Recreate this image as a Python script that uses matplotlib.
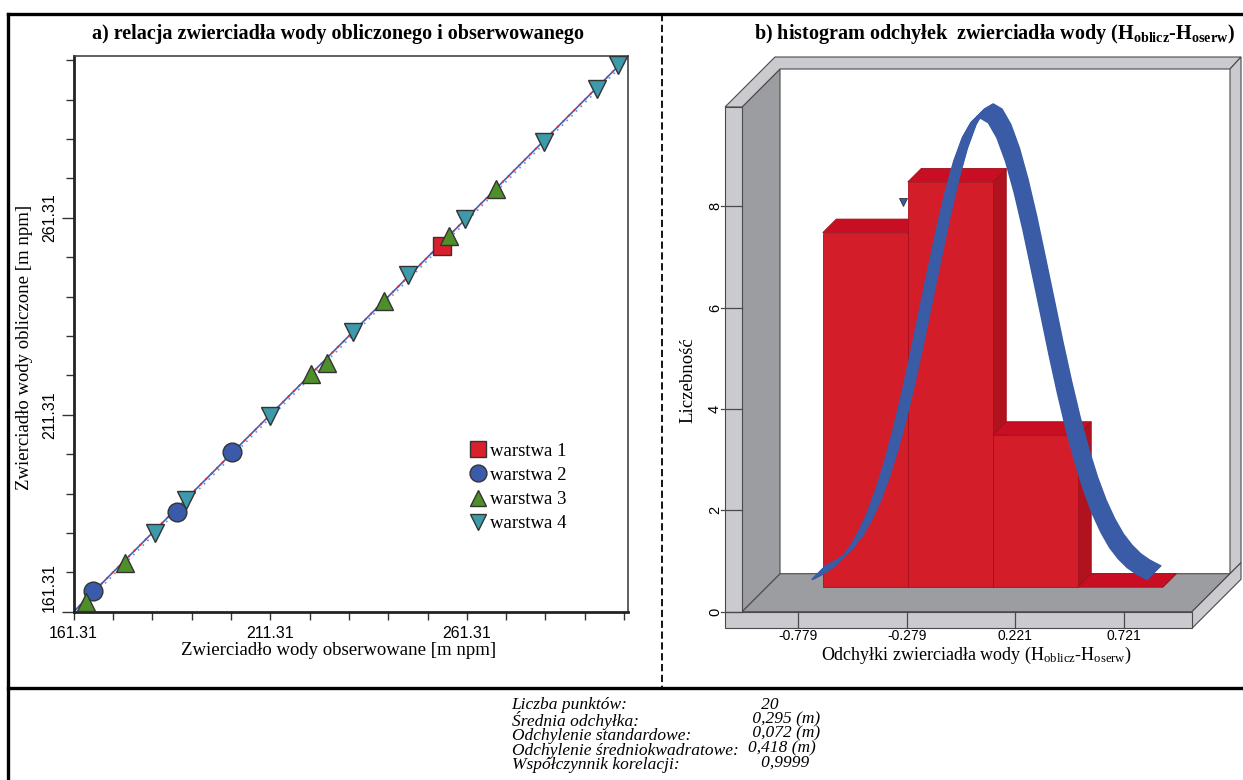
import numpy as np
import matplotlib
matplotlib.use("Agg")
import matplotlib.pyplot as plt
from matplotlib.patches import Polygon
from matplotlib.lines import Line2D

plt.rcParams['font.family'] = 'Liberation Serif'
plt.rcParams['mathtext.fontset'] = 'custom'
plt.rcParams['mathtext.rm'] = 'Liberation Serif'
plt.rcParams['mathtext.it'] = 'Liberation Serif:italic'
plt.rcParams['mathtext.bf'] = 'Liberation Serif:bold'

# ---- panel a: observed vs computed water table [m npm]
w1_obs = [255.05]
w1_calc = [254.19]
w2_obs = [166.35, 187.67, 201.59]
w2_calc = [166.65, 186.75, 201.87]
w3_obs = [164.54, 174.39, 221.64, 225.71, 240.14, 256.83, 268.66]
w3_calc = [163.85, 173.78, 221.54, 224.52, 240.19, 256.65, 268.61]
w4_obs = [181.90, 190.01, 211.13, 232.25, 246.27, 260.78, 281.01, 294.37, 299.84]
w4_calc = [181.26, 189.73, 211.11, 232.30, 246.81, 260.98, 280.58, 294.06, 299.99]
layer_names = ['warstwa 1', 'warstwa 2', 'warstwa 3', 'warstwa 4']

axis_min = 161.31
axis_max = 302.4
major_ticks = [161.31, 211.31, 261.31]

# ---- panel b: histogram of deviations
bin_start = -0.779
bin_width = 0.392
counts = [7, 8, 3, 0]
hist_ticks = [-0.779, -0.279, 0.221, 0.721]
count_ticks = [0, 2, 4, 6, 8]
curve_x = [-0.830, -0.815, -0.775, -0.735, -0.695, -0.655, -0.615, -0.575, -0.535, -0.495,
           -0.455, -0.415, -0.375, -0.335, -0.295, -0.255, -0.215, -0.175, -0.135, -0.095,
           -0.055, -0.015, 0.025, 0.065, 0.105, 0.145, 0.185, 0.225, 0.265, 0.305,
           0.345, 0.385, 0.425, 0.465, 0.505, 0.545, 0.585, 0.625, 0.665, 0.705, 0.720]
curve_y = [0.15, 0.18, 0.27, 0.39, 0.56, 0.78, 1.08, 1.45, 1.91, 2.46,
           3.09, 3.81, 4.59, 5.42, 6.24, 7.05, 7.78, 8.40, 8.87, 9.17,
           9.27, 9.17, 8.87, 8.40, 7.78, 7.05, 6.24, 5.42, 4.59, 3.81,
           3.09, 2.46, 1.91, 1.45, 1.08, 0.78, 0.56, 0.39, 0.27, 0.18, 0.15]
mark_x, mark_y = -0.295, 8.09

# ---- statistics
stats_labels = ['Liczba punktów:', 'Średnia odchyłka:', 'Odchylenie standardowe:',
                'Odchylenie średniokwadratowe:', 'Współczynnik korelacji:']
stats_values = ['20', '0,295 (m)', '0,072 (m)', '0,418 (m)', '0,9999']
stats_indent = [3, 1, 1, 0, 3]

W, H = 1243, 780
fig = plt.figure(figsize=(W / 100, H / 100), dpi=100)


def fx(px):
    return px / W


def fy(py):
    return 1 - py / H


# ================= panel a =================
ax = fig.add_axes([fx(73.6), fy(611.7), 554.8 / W, 555.7 / H])
ax.set_xlim(axis_min, axis_max)
ax.set_ylim(axis_min, axis_max)

line = np.array([axis_min, axis_max])
ax.plot(line, line, color='#3F5FB5', lw=1.2, zorder=2)
ax.plot(line, line, color='#E2303C', lw=1.4, ls=(0, (1, 3)), zorder=2)
ax.plot(line + 0.8, line, color='#7090DD', lw=1.2, ls=(0, (1, 3)), zorder=2)

mk = dict(ls='none', mec='#333333', mew=1.0, ms=13.5, zorder=3)
ax.plot(w1_obs, w1_calc, marker='s', mfc='#D9202C', label=layer_names[0], **mk)
ax.plot(w2_obs, w2_calc, marker='o', mfc='#3A5BA9', label=layer_names[1], **mk)
ax.plot(w3_obs, w3_calc, marker='^', mfc='#4F8F2A', label=layer_names[2], **mk)
ax.plot(w4_obs, w4_calc, marker='v', mfc='#3D9AAB', label=layer_names[3], **mk)

minor = np.arange(axis_min, axis_max, 10)
ax.set_xticks(minor)
ax.set_xticklabels([f'{v:.2f}' if round(v, 2) in major_ticks else '' for v in minor],
                   family='Liberation Sans', fontsize=11.5)
ax.set_yticks(major_ticks)
ax.set_yticks(minor, minor=True)
ax.set_yticklabels([f'{v:.2f}' for v in major_ticks], family='Liberation Sans', fontsize=11.5)
for i, lbl in enumerate(ax.get_yticklabels()):
    lbl.set_rotation(90)
    lbl.set_va('bottom' if i == 0 else 'center')
ax.tick_params(axis='x', length=6, width=1, color='#333333', pad=4)
ax.tick_params(axis='y', which='major', length=9, width=1, color='#333333', pad=3)
ax.tick_params(axis='y', which='minor', length=6, width=1, color='#333333')
for side in ['left', 'bottom']:
    ax.spines[side].set_linewidth(2.0)
    ax.spines[side].set_color('#222222')
for side in ['right', 'top']:
    ax.spines[side].set_linewidth(1.2)
    ax.spines[side].set_color('#444444')

ax.set_xlabel('Zwierciadło wody obserwowane [m npm]', fontsize=13.5)
ax.xaxis.set_label_coords(0.478, -0.055)
ax.set_ylabel('Zwierciadło wody obliczone [m npm]', fontsize=13.5)
ax.yaxis.set_label_coords(-0.073, 0.476)

ax.legend(loc='upper left', bbox_to_anchor=(0.698, 0.318), frameon=False,
          fontsize=13.5, handletextpad=0.15, labelspacing=0.38, markerscale=0.9,
          handlelength=1.0, borderaxespad=0)

fig.text(fx(338), fy(34), 'a) relacja zwierciadła wody obliczonego i obserwowanego',
         ha='center', va='center', fontsize=14.5, fontweight='bold')

# ================= panel b =================
PX_X = 216.8   # pixels per unit of deviation
PX_Y = 50.66   # pixels per count
ax2 = fig.add_axes([fx(700), fy(645), 543 / W, 600 / H])
ax2.set_xlim(bin_start - (798.3 - 700) / PX_X, bin_start + (1243 - 798.3) / PX_X)
ax2.set_ylim(-(645 - 611.7) / PX_Y, (611.7 - 45) / PX_Y)
ax2.axis('off')

xa = bin_start - (798.3 - 742) / PX_X
xb = bin_start + (1192 - 798.3) / PX_X
yt = (611.7 - 107) / PX_Y
DX, DY = 38 / PX_X, 38 / PX_Y
wt, ft = 17 / PX_X, 16.6 / PX_Y
bt, rt = 12 / PX_Y, 11 / PX_X
light, dark, edge = '#CBCBCF', '#9C9DA1', '#4A4A4A'


def poly(pts, fc, ec=edge, lw=0.8, z=1):
    ax2.add_patch(Polygon(pts, closed=True, fc=fc, ec=ec, lw=lw, zorder=z))


poly([(xa, 0), (xb, 0), (xb + DX, DY), (xa + DX, DY)], dark)
poly([(xa, 0), (xa, yt), (xa + DX, yt + DY), (xa + DX, DY)], dark)
poly([(xa - wt, yt), (xa, yt), (xa + DX, yt + DY), (xb + DX, yt + DY),
      (xb + DX + rt, yt + DY + bt), (xa - wt + (DY + bt) * PX_Y / PX_X, yt + DY + bt)], light)
poly([(xb + DX, DY), (xb + DX, yt + DY), (xb + DX + rt, yt + DY + bt),
      (xb + DX + rt, DY + rt * PX_X / PX_Y)], light)
k = (DX + rt) * PX_X / PX_Y
poly([(xb, 0), (xb, -ft), (xb + DX + rt, -ft + k), (xb + DX + rt, k)], light)
poly([(xa - wt, 0), (xa, 0), (xa, yt), (xa - wt, yt)], light)
poly([(xa - wt, -ft), (xb, -ft), (xb, 0), (xa - wt, 0)], light)

for v in count_ticks:
    ax2.plot([xa - wt - 4 / PX_X, xa], [v, v], color=edge, lw=0.9, zorder=2)
    fig.text(fx(715), fy(611.7 - v * PX_Y), str(v), rotation=90, ha='center', va='center',
             family='Liberation Sans', fontsize=10.5)
for t in hist_ticks:
    ax2.plot([t, t], [-ft, 0], color=edge, lw=0.9, zorder=2)
    ax2.text(t, -ft - 1 / PX_Y, f'{t:.3f}', ha='center', va='top',
             family='Liberation Sans', fontsize=10)

# bars, pushed to the back part of the box
fd = 24.5 / 38
edges = bin_start + bin_width * np.arange(len(counts) + 1)
for i, c in enumerate(counts):
    L, R = edges[i], edges[i + 1]
    poly([(R + fd * DX, fd * DY), (R + DX, DY), (R + DX, c + DY), (R + fd * DX, c + fd * DY)],
         '#B0121E', ec='#A0101A', lw=0.6, z=3)
    poly([(L + fd * DX, c + fd * DY), (R + fd * DX, c + fd * DY), (R + DX, c + DY), (L + DX, c + DY)],
         '#C80E22', ec='#A0101A', lw=0.6, z=3)
    if c > 0:
        poly([(L + fd * DX, fd * DY), (R + fd * DX, fd * DY), (R + fd * DX, c + fd * DY),
              (L + fd * DX, c + fd * DY)], '#D31E2A', ec='#A8101C', lw=0.6, z=3)

# normal curve as a ribbon through the depth of the bars
cx, cy = np.array(curve_x), np.array(curve_y)
for t in np.linspace(fd, 1.0, 26):
    ax2.plot(cx + t * DX, cy + t * DY, color='#3A5BA5', lw=1.2, zorder=4,
             solid_joinstyle='round', solid_capstyle='butt')
ax2.plot(mark_x, mark_y, marker='v', ms=6, mfc='#3A5BA5', mec='#333333', mew=0.6, zorder=5)

fig.text(fx(994), fy(34),
         r'b) histogram odchyłek  zwierciadła wody (H$_{\mathbf{oblicz}}$-H$_{\mathbf{oserw}}$)',
         ha='center', va='center', fontsize=14.5, fontweight='bold')
fig.text(fx(976), fy(655), r'Odchyłki zwierciadła wody (H$_{\mathrm{oblicz}}$-H$_{\mathrm{oserw}}$)',
         ha='center', va='center', fontsize=13)
fig.text(fx(688), fy(380), 'Liczebność', rotation=90, ha='center', va='center', fontsize=13.5)

# ================= frame =================
fig.add_artist(Line2D([fx(8), fx(1243)], [fy(13.5), fy(13.5)], color='black', lw=2.4))
fig.add_artist(Line2D([fx(8), fx(8)], [fy(13.5), fy(780)], color='black', lw=2.4))
fig.add_artist(Line2D([fx(8), fx(1243)], [fy(687.5), fy(687.5)], color='black', lw=2.4))
fig.add_artist(Line2D([fx(662), fx(662)], [fy(13.5), fy(687.5)], color='black', lw=1.3,
                      ls=(0, (4, 2))))

# ================= statistics =================
fig.text(fx(511.7), fy(697), '\n'.join(stats_labels), ha='left', va='top',
         fontsize=12.5, style='italic', linespacing=0.86)
fig.text(fx(748), fy(697), '\n'.join(' ' * n + v for n, v in zip(stats_indent, stats_values)),
         ha='left', va='top', fontsize=12.5, style='italic', linespacing=0.86)

fig.savefig('out.png', dpi=100)
